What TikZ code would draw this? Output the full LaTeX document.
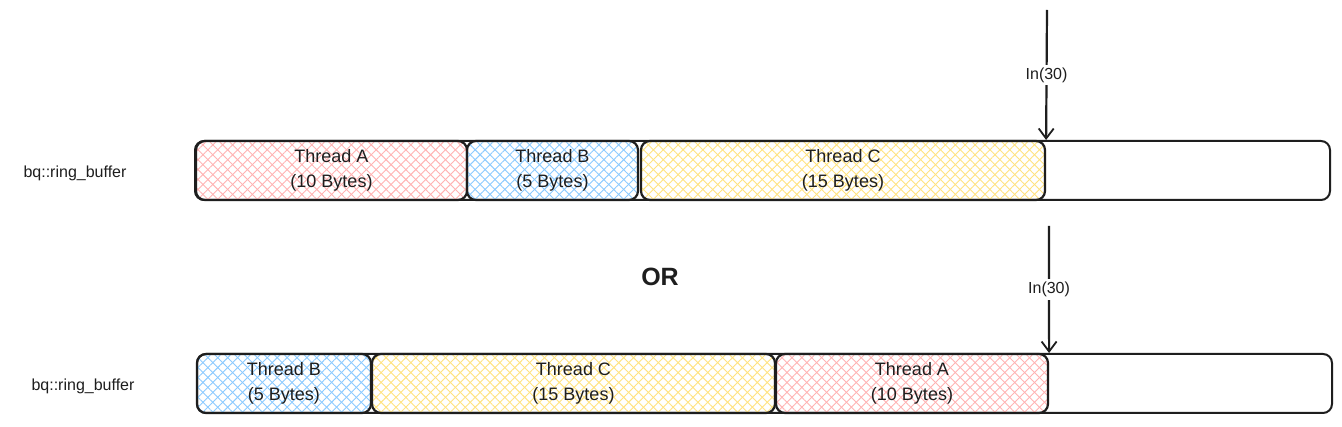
\documentclass[tikz,border=0pt]{standalone}
\usepackage{fontspec}
\setmainfont{Liberation Sans}
\usetikzlibrary{patterns.meta,arrows.meta}
\definecolor{inkc}{HTML}{1E1E1E}
\definecolor{pinkc}{HTML}{FFB3B3}
\definecolor{bluec}{HTML}{8CCBFF}
\definecolor{yellowc}{HTML}{FFE380}
\tikzset{
  hatch/.style={
    preaction={pattern={Lines[angle=45,distance=7pt,line width=0.9pt]},pattern color=#1},
    preaction={pattern={Lines[angle=-45,distance=7pt,line width=0.9pt]},pattern color=#1}},
  seg/.style={draw=inkc, line width=2.2pt, rounded corners=9pt, minimum height=59pt,
    inner sep=0pt, align=center, font=\fontsize{18}{25}\selectfont, text=inkc},
  buf/.style={draw=inkc, line width=2pt, rounded corners=9pt, minimum height=59pt, inner sep=0pt},
  lbl/.style={font=\fontsize{16}{18}\selectfont, text=inkc},
  inarrow/.style={draw=inkc, line width=2.2pt, -{Straight Barb[length=10pt,width=15pt,line width=1.8pt]}},
  inlbl/.style={fill=white, inner sep=3pt, font=\fontsize{16}{18}\selectfont, text=inkc}
}
\begin{document}
\begin{tikzpicture}[x=1pt,y=-1pt]
\useasboundingbox[fill=white] (0,0) rectangle (1342,427);
% top row
\node[buf, minimum width=1135pt] (buf1) at (762.5,170.5) {};
\node[seg, minimum width=271pt, hatch=pinkc] (a1) at (331.5,170.5) {Thread A\\(10 Bytes)};
\node[seg, minimum width=171pt, hatch=bluec] (b1) at (552.5,170.5) {Thread B\\(5 Bytes)};
\node[seg, minimum width=404pt, hatch=yellowc] (c1) at (843,170.5) {Thread C\\(15 Bytes)};
\node[lbl] (r1) at (75,173) {bq::ring\_buffer};
\coordinate (s1) at (1047,10);
\draw[inarrow] (s1) -- node[inlbl] (in1) {In(30)} (buf1.north -| c1.north east);
% OR
\node[font=\fontsize{25}{28}\selectfont\bfseries, text=inkc] (or) at (660,277) {OR};
% bottom row
\node[buf, minimum width=1135pt] (buf2) at (764.5,383.5) {};
\node[seg, minimum width=174pt, hatch=bluec] (b2) at (284,383.5) {Thread B\\(5 Bytes)};
\node[seg, minimum width=403pt, hatch=yellowc] (c2) at (573.5,383.5) {Thread C\\(15 Bytes)};
\node[seg, minimum width=272pt, hatch=pinkc] (a2) at (912,383.5) {Thread A\\(10 Bytes)};
\node[lbl] (r2) at (83,386) {bq::ring\_buffer};
\coordinate (s2) at (1049,226);
\draw[inarrow] (s2) -- node[inlbl] (in2) {In(30)} (buf2.north -| a2.north east);
\end{tikzpicture}
\end{document}
